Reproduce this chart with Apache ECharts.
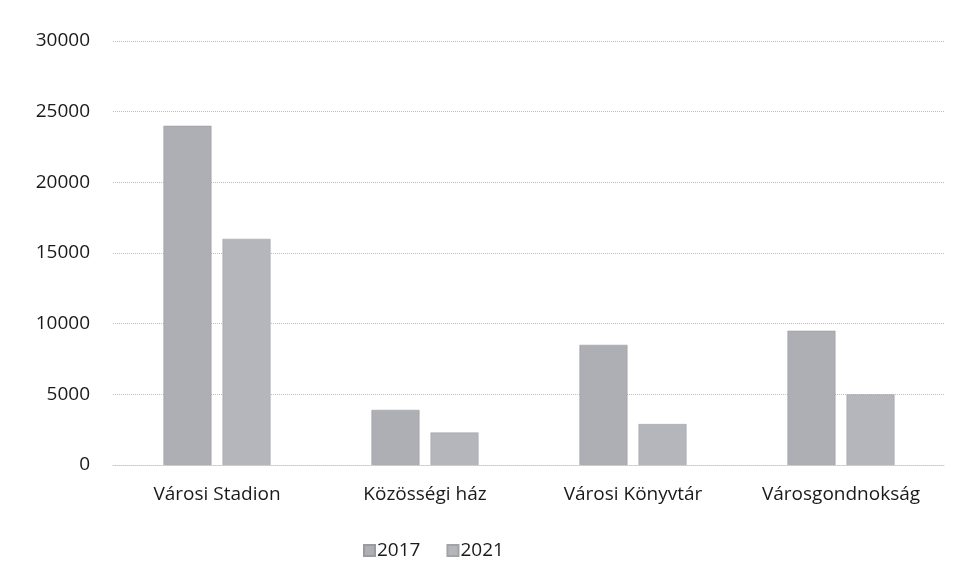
<!DOCTYPE html>
<html>
<head>
<meta charset="utf-8">
<script src="https://cdn.jsdelivr.net/npm/echarts@6/dist/echarts.min.js"></script>
<style>html,body{margin:0;padding:0;background:#fff;}#c{width:960px;height:584px;}</style>
</head>
<body>
<div id="c"></div>
<script>
const categories = ['Városi Stadion', 'Közösségi ház', 'Városi Könyvtár', 'Városgondnokság'];
const seriesNames = ['2017', '2021'];
const values2017 = [24000, 3900, 8500, 9500];
const values2021 = [16000, 2300, 2900, 5000];
const yTicks = [0, 5000, 10000, 15000, 20000, 25000, 30000];

const font = 'Open Sans';
const chart = echarts.init(document.getElementById('c'), null, {renderer: 'canvas'});
chart.setOption({
  animation: false,
  backgroundColor: '#ffffff',
  textStyle: {fontFamily: font},
  grid: {left: 113, right: 15, top: 41, bottom: 119, containLabel: false},
  legend: {
    data: seriesNames,
    top: 536,
    left: 358,
    itemWidth: 11,
    itemHeight: 11,
    itemGap: 26,
    icon: 'rect',
    textStyle: {fontFamily: font, fontSize: 19, color: '#1a1a1a', padding: [0, 0, 0, -3]}
  },
  xAxis: {
    type: 'category',
    data: categories,
    axisLine: {show: true, lineStyle: {color: '#c8c8c8', type: 'dotted', width: 1}},
    axisTick: {show: false},
    axisLabel: {fontFamily: font, fontSize: 19, color: '#1a1a1a', margin: 20}
  },
  yAxis: {
    type: 'value',
    min: yTicks[0],
    max: yTicks[yTicks.length - 1],
    interval: 5000,
    axisLine: {show: false},
    axisTick: {show: false},
    axisLabel: {fontFamily: font, fontSize: 19, color: '#1a1a1a', margin: 23, formatter: v => String(v)},
    splitLine: {lineStyle: {color: '#bdbdbd', type: 'dotted', width: 1}}
  },
  series: [
    {name: seriesNames[0], type: 'bar', data: values2017, barWidth: 48, barGap: '23%',
     itemStyle: {color: '#aeafb4', borderColor: '#9a9ba0', borderWidth: 0.6}},
    {name: seriesNames[1], type: 'bar', data: values2021, barWidth: 48,
     itemStyle: {color: '#b5b6bb', borderColor: '#a2a3a8', borderWidth: 0.6}}
  ]
});
</script>
</body>
</html>
